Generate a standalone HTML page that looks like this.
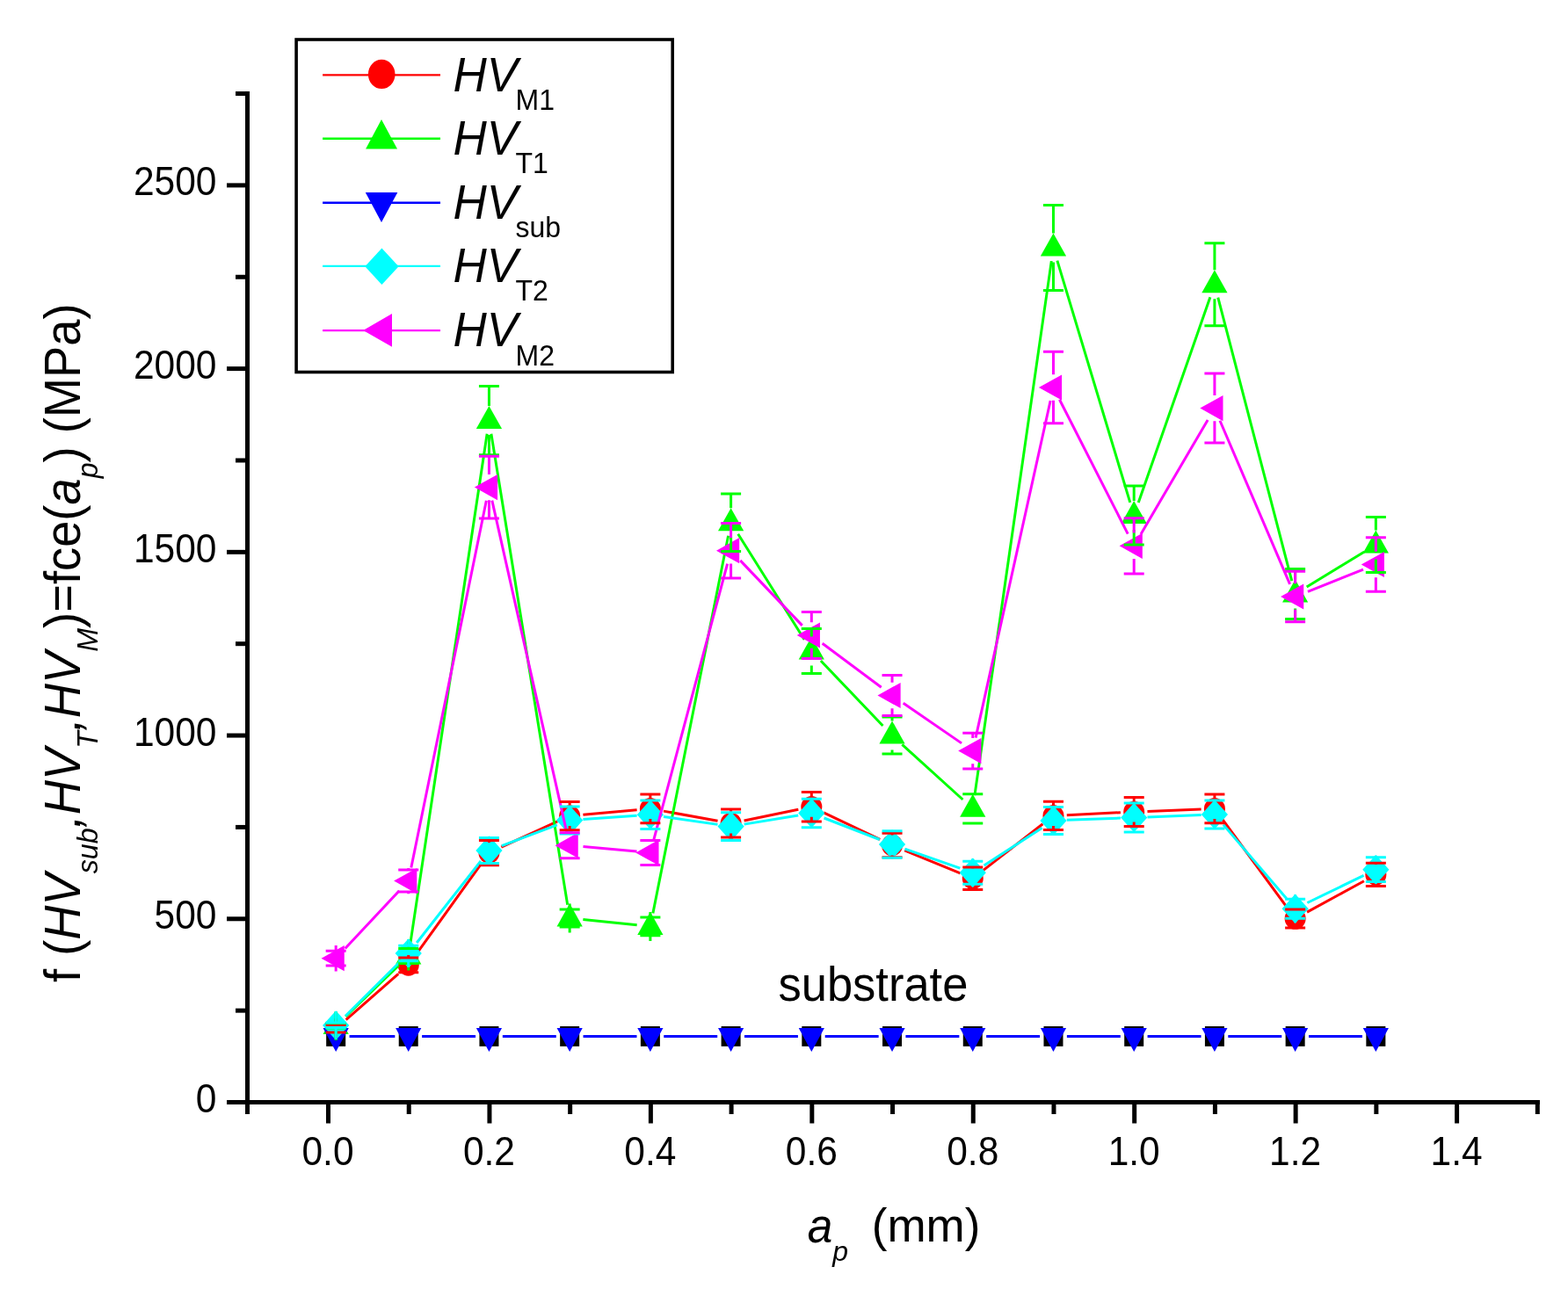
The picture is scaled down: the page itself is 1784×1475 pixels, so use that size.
<!DOCTYPE html>
<html><head><meta charset="utf-8"><title>HV chart</title>
<style>
html,body{margin:0;padding:0;background:#fff;}
body{width:1784px;height:1475px;overflow:hidden;}
svg{display:block;}
text{font-family:"Liberation Sans",sans-serif;fill:#000;}
</style></head>
<body>
<svg width="1784" height="1475" viewBox="0 0 1784 1475">
<rect width="1784" height="1475" fill="#fff"/>
<g id="data">
<rect x="371.17" y="1168.05" width="22" height="22.8" fill="#000000"/>
<rect x="453.72" y="1168.05" width="22" height="22.8" fill="#000000"/>
<rect x="545.44" y="1168.05" width="22" height="22.8" fill="#000000"/>
<rect x="637.16" y="1168.05" width="22" height="22.8" fill="#000000"/>
<rect x="728.88" y="1168.05" width="22" height="22.8" fill="#000000"/>
<rect x="820.6" y="1168.05" width="22" height="22.8" fill="#000000"/>
<rect x="912.32" y="1168.05" width="22" height="22.8" fill="#000000"/>
<rect x="1004.04" y="1168.05" width="22" height="22.8" fill="#000000"/>
<rect x="1095.76" y="1168.05" width="22" height="22.8" fill="#000000"/>
<rect x="1187.48" y="1168.05" width="22" height="22.8" fill="#000000"/>
<rect x="1279.2" y="1168.05" width="22" height="22.8" fill="#000000"/>
<rect x="1370.92" y="1168.05" width="22" height="22.8" fill="#000000"/>
<rect x="1462.64" y="1168.05" width="22" height="22.8" fill="#000000"/>
<rect x="1554.36" y="1168.05" width="22" height="22.8" fill="#000000"/>
<path d="M393.67 1160.71L453.22 1108.49M473.64 1085.97L547.52 983.03M570.35 964.23L634.25 934.97M663.4 927.24L724.64 921.76M754.94 923.12L816.54 934.28M846.59 933.93L908.33 921.27M937.13 924.79L1001.23 955.41M1029.19 967.82L1092.61 993.88M1118.84 990.31L1186.4 937.79M1213.76 927.67L1274.92 924.73M1305.49 923.4L1366.63 921M1390.97 932.74L1464.59 1033.16M1487.07 1038.17L1551.93 1002.73" stroke="#ff0000" stroke-width="3.0" fill="none"/>
<ellipse cx="382.17" cy="1170.8" rx="12.0" ry="12.3" fill="#ff0000"/>
<ellipse cx="464.72" cy="1098.4" rx="12.0" ry="12.3" fill="#ff0000"/>
<ellipse cx="556.44" cy="970.6" rx="12.0" ry="12.3" fill="#ff0000"/>
<ellipse cx="648.16" cy="928.6" rx="12.0" ry="12.3" fill="#ff0000"/>
<ellipse cx="739.88" cy="920.4" rx="12.0" ry="12.3" fill="#ff0000"/>
<ellipse cx="831.6" cy="937" rx="12.0" ry="12.3" fill="#ff0000"/>
<ellipse cx="923.32" cy="918.2" rx="12.0" ry="12.3" fill="#ff0000"/>
<ellipse cx="1015.04" cy="962" rx="12.0" ry="12.3" fill="#ff0000"/>
<ellipse cx="1106.76" cy="999.7" rx="12.0" ry="12.3" fill="#ff0000"/>
<ellipse cx="1198.48" cy="928.4" rx="12.0" ry="12.3" fill="#ff0000"/>
<ellipse cx="1290.2" cy="924" rx="12.0" ry="12.3" fill="#ff0000"/>
<ellipse cx="1381.92" cy="920.4" rx="12.0" ry="12.3" fill="#ff0000"/>
<ellipse cx="1473.64" cy="1045.5" rx="12.0" ry="12.3" fill="#ff0000"/>
<ellipse cx="1565.36" cy="995.4" rx="12.0" ry="12.3" fill="#ff0000"/>
<path d="M393.19 1156.89L453.7 1098.61M467 1072.87L554.16 493.73M558.89 493.7L645.71 1029.8M663.38 1046.48L724.66 1052.82M742.87 1039.4L828.61 609.8M839.73 607.76L915.19 728.04M933.89 752.06L1004.47 825.94M1026.37 847.29L1095.43 910.01M1108.94 905.16L1196.3 297.14M1202.89 296.65L1285.79 571.85M1295.24 572.06L1376.88 338.24M1385.78 338.61L1469.78 661.19M1486.7 668.03L1552.3 627.97" stroke="#00ff00" stroke-width="3.0" fill="none"/>
<path d="M382.17 1150.9L396.77 1177L367.57 1177Z" fill="#00ff00"/>
<path d="M464.72 1071.4L479.32 1097.5L450.12 1097.5Z" fill="#00ff00"/>
<path d="M556.44 462L571.04 488.1L541.84 488.1Z" fill="#00ff00"/>
<path d="M648.16 1028.3L662.76 1054.4L633.56 1054.4Z" fill="#00ff00"/>
<path d="M739.88 1037.8L754.48 1063.9L725.28 1063.9Z" fill="#00ff00"/>
<path d="M831.6 578.2L846.2 604.3L817 604.3Z" fill="#00ff00"/>
<path d="M923.32 724.4L937.92 750.5L908.72 750.5Z" fill="#00ff00"/>
<path d="M1015.04 820.4L1029.64 846.5L1000.44 846.5Z" fill="#00ff00"/>
<path d="M1106.76 903.7L1121.36 929.8L1092.16 929.8Z" fill="#00ff00"/>
<path d="M1198.48 265.4L1213.08 291.5L1183.88 291.5Z" fill="#00ff00"/>
<path d="M1290.2 569.9L1304.8 596L1275.6 596Z" fill="#00ff00"/>
<path d="M1381.92 307.2L1396.52 333.3L1367.32 333.3Z" fill="#00ff00"/>
<path d="M1473.64 659.4L1488.24 685.5L1459.04 685.5Z" fill="#00ff00"/>
<path d="M1565.36 603.4L1579.96 629.5L1550.76 629.5Z" fill="#00ff00"/>
<path d="M397.57 1179.45L449.32 1179.45M480.12 1179.45L541.04 1179.45M571.84 1179.45L632.76 1179.45M663.56 1179.45L724.48 1179.45M755.28 1179.45L816.2 1179.45M847 1179.45L907.92 1179.45M938.72 1179.45L999.64 1179.45M1030.44 1179.45L1091.36 1179.45M1122.16 1179.45L1183.08 1179.45M1213.88 1179.45L1274.8 1179.45M1305.6 1179.45L1366.52 1179.45M1397.32 1179.45L1458.24 1179.45M1489.04 1179.45L1549.96 1179.45" stroke="#0000ff" stroke-width="3.0" fill="none"/>
<path d="M367.57 1169.95L396.77 1169.95L382.17 1196.95Z" fill="#0000ff"/>
<path d="M450.12 1169.95L479.32 1169.95L464.72 1196.95Z" fill="#0000ff"/>
<path d="M541.84 1169.95L571.04 1169.95L556.44 1196.95Z" fill="#0000ff"/>
<path d="M633.56 1169.95L662.76 1169.95L648.16 1196.95Z" fill="#0000ff"/>
<path d="M725.28 1169.95L754.48 1169.95L739.88 1196.95Z" fill="#0000ff"/>
<path d="M817 1169.95L846.2 1169.95L831.6 1196.95Z" fill="#0000ff"/>
<path d="M908.72 1169.95L937.92 1169.95L923.32 1196.95Z" fill="#0000ff"/>
<path d="M1000.44 1169.95L1029.64 1169.95L1015.04 1196.95Z" fill="#0000ff"/>
<path d="M1092.16 1169.95L1121.36 1169.95L1106.76 1196.95Z" fill="#0000ff"/>
<path d="M1183.88 1169.95L1213.08 1169.95L1198.48 1196.95Z" fill="#0000ff"/>
<path d="M1275.6 1169.95L1304.8 1169.95L1290.2 1196.95Z" fill="#0000ff"/>
<path d="M1367.32 1169.95L1396.52 1169.95L1381.92 1196.95Z" fill="#0000ff"/>
<path d="M1459.04 1169.95L1488.24 1169.95L1473.64 1196.95Z" fill="#0000ff"/>
<path d="M1550.76 1169.95L1579.96 1169.95L1565.36 1196.95Z" fill="#0000ff"/>
<path d="M393.03 1156.22L453.87 1095.78M474.16 1072.96L547 980.04M570.77 962.63L633.83 938.97M663.42 932.53L724.62 928.27M755.02 929.41L816.46 938.39M846.7 938.11L908.22 927.99M937.59 931.02L1000.77 955.48M1029.48 966.07L1092.32 988.13M1119.61 984.89L1185.63 942.21M1213.77 933.33L1274.91 931.07M1305.49 929.92L1366.63 927.58M1391.87 938.63L1463.69 1022.57M1487.41 1027.52L1551.59 996.38" stroke="#00ffff" stroke-width="3.0" fill="none"/>
<path d="M382.17 1150.2L397.27 1167L382.17 1183.8L367.07 1167Z" fill="#00ffff"/>
<path d="M464.72 1068.2L479.82 1085L464.72 1101.8L449.62 1085Z" fill="#00ffff"/>
<path d="M556.44 951.2L571.54 968L556.44 984.8L541.34 968Z" fill="#00ffff"/>
<path d="M648.16 916.8L663.26 933.6L648.16 950.4L633.06 933.6Z" fill="#00ffff"/>
<path d="M739.88 910.4L754.98 927.2L739.88 944L724.78 927.2Z" fill="#00ffff"/>
<path d="M831.6 923.8L846.7 940.6L831.6 957.4L816.5 940.6Z" fill="#00ffff"/>
<path d="M923.32 908.7L938.42 925.5L923.32 942.3L908.22 925.5Z" fill="#00ffff"/>
<path d="M1015.04 944.2L1030.14 961L1015.04 977.8L999.94 961Z" fill="#00ffff"/>
<path d="M1106.76 976.4L1121.86 993.2L1106.76 1010L1091.66 993.2Z" fill="#00ffff"/>
<path d="M1198.48 917.1L1213.58 933.9L1198.48 950.7L1183.38 933.9Z" fill="#00ffff"/>
<path d="M1290.2 913.7L1305.3 930.5L1290.2 947.3L1275.1 930.5Z" fill="#00ffff"/>
<path d="M1381.92 910.2L1397.02 927L1381.92 943.8L1366.82 927Z" fill="#00ffff"/>
<path d="M1473.64 1017.4L1488.74 1034.2L1473.64 1051L1458.54 1034.2Z" fill="#00ffff"/>
<path d="M1565.36 972.9L1580.46 989.7L1565.36 1006.5L1550.26 989.7Z" fill="#00ffff"/>
<path d="M392.7 1079.46L454.19 1013.84M467.81 987.51L553.35 569.69M559.82 569.62L644.78 947.18M663.5 963.57L724.54 969.03M743.85 955.52L827.63 641.58M842.22 637.85L912.7 711.85M935.66 732.22L1002.7 782.28M1027.73 800.23L1094.07 845.87M1110.09 839.57L1195.15 456.03M1205.46 454.73L1283.22 607.57M1297.98 608.01L1374.14 477.89M1387.98 478.76L1467.58 664.84M1487.95 673.31L1551.05 648.19" stroke="#ff00ff" stroke-width="3.0" fill="none"/>
<path d="M365.57 1090.7L391.77 1076.1L391.77 1105.3Z" fill="#ff00ff"/>
<path d="M448.12 1002.6L474.32 988L474.32 1017.2Z" fill="#ff00ff"/>
<path d="M539.84 554.6L566.04 540L566.04 569.2Z" fill="#ff00ff"/>
<path d="M631.56 962.2L657.76 947.6L657.76 976.8Z" fill="#ff00ff"/>
<path d="M723.28 970.4L749.48 955.8L749.48 985Z" fill="#ff00ff"/>
<path d="M815 626.7L841.2 612.1L841.2 641.3Z" fill="#ff00ff"/>
<path d="M906.72 723L932.92 708.4L932.92 737.6Z" fill="#ff00ff"/>
<path d="M998.44 791.5L1024.64 776.9L1024.64 806.1Z" fill="#ff00ff"/>
<path d="M1090.16 854.6L1116.36 840L1116.36 869.2Z" fill="#ff00ff"/>
<path d="M1181.88 441L1208.08 426.4L1208.08 455.6Z" fill="#ff00ff"/>
<path d="M1273.6 621.3L1299.8 606.7L1299.8 635.9Z" fill="#ff00ff"/>
<path d="M1365.32 464.6L1391.52 450L1391.52 479.2Z" fill="#ff00ff"/>
<path d="M1457.04 679L1483.24 664.4L1483.24 693.6Z" fill="#ff00ff"/>
<path d="M1548.76 642.5L1574.96 627.9L1574.96 657.1Z" fill="#ff00ff"/>
<path d="M382.17 1166.5V1159.3M382.17 1175.1V1182.3" stroke="#ff0000" stroke-width="3.0" fill="none"/><path d="M370.67 1166.5H393.67M370.67 1175.1H393.67" stroke="#ff0000" stroke-width="3.0" fill="none"/>
<path d="M464.72 1090V1086.9M464.72 1106.8V1109.9" stroke="#ff0000" stroke-width="3.0" fill="none"/><path d="M453.22 1090H476.22M453.22 1106.8H476.22" stroke="#ff0000" stroke-width="3.0" fill="none"/>
<path d="M556.44 956.4V959.1M556.44 984.8V982.1" stroke="#ff0000" stroke-width="3.0" fill="none"/><path d="M544.94 956.4H567.94M544.94 984.8H567.94" stroke="#ff0000" stroke-width="3.0" fill="none"/>
<path d="M648.16 912.5V917.1M648.16 944.7V940.1" stroke="#ff0000" stroke-width="3.0" fill="none"/><path d="M636.66 912.5H659.66M636.66 944.7H659.66" stroke="#ff0000" stroke-width="3.0" fill="none"/>
<path d="M739.88 904V908.9M739.88 936.8V931.9" stroke="#ff0000" stroke-width="3.0" fill="none"/><path d="M728.38 904H751.38M728.38 936.8H751.38" stroke="#ff0000" stroke-width="3.0" fill="none"/>
<path d="M831.6 921.1V925.5M831.6 952.9V948.5" stroke="#ff0000" stroke-width="3.0" fill="none"/><path d="M820.1 921.1H843.1M820.1 952.9H843.1" stroke="#ff0000" stroke-width="3.0" fill="none"/>
<path d="M923.32 901.5V906.7M923.32 934.9V929.7" stroke="#ff0000" stroke-width="3.0" fill="none"/><path d="M911.82 901.5H934.82M911.82 934.9H934.82" stroke="#ff0000" stroke-width="3.0" fill="none"/>
<path d="M1015.04 948.3V950.5M1015.04 975.7V973.5" stroke="#ff0000" stroke-width="3.0" fill="none"/><path d="M1003.54 948.3H1026.54M1003.54 975.7H1026.54" stroke="#ff0000" stroke-width="3.0" fill="none"/>
<path d="M1106.76 987V988.2M1106.76 1012.4V1011.2" stroke="#ff0000" stroke-width="3.0" fill="none"/><path d="M1095.26 987H1118.26M1095.26 1012.4H1118.26" stroke="#ff0000" stroke-width="3.0" fill="none"/>
<path d="M1198.48 912.2V916.9M1198.48 944.6V939.9" stroke="#ff0000" stroke-width="3.0" fill="none"/><path d="M1186.98 912.2H1209.98M1186.98 944.6H1209.98" stroke="#ff0000" stroke-width="3.0" fill="none"/>
<path d="M1290.2 907.6V912.5M1290.2 940.4V935.5" stroke="#ff0000" stroke-width="3.0" fill="none"/><path d="M1278.7 907.6H1301.7M1278.7 940.4H1301.7" stroke="#ff0000" stroke-width="3.0" fill="none"/>
<path d="M1381.92 904V908.9M1381.92 936.8V931.9" stroke="#ff0000" stroke-width="3.0" fill="none"/><path d="M1370.42 904H1393.42M1370.42 936.8H1393.42" stroke="#ff0000" stroke-width="3.0" fill="none"/>
<path d="M1473.64 1035V1034M1473.64 1056V1057" stroke="#ff0000" stroke-width="3.0" fill="none"/><path d="M1462.14 1035H1485.14M1462.14 1056H1485.14" stroke="#ff0000" stroke-width="3.0" fill="none"/>
<path d="M1565.36 982.2V983.9M1565.36 1008.6V1006.9" stroke="#ff0000" stroke-width="3.0" fill="none"/><path d="M1553.86 982.2H1576.86M1553.86 1008.6H1576.86" stroke="#ff0000" stroke-width="3.0" fill="none"/>
<path d="M382.17 1164.5V1151M382.17 1170.5V1184" stroke="#00ff00" stroke-width="3.0" fill="none"/><path d="M370.67 1164.5H393.67M370.67 1170.5H393.67" stroke="#00ff00" stroke-width="3.0" fill="none"/>
<path d="M464.72 1079.4V1071.5M464.72 1096.6V1104.5" stroke="#00ff00" stroke-width="3.0" fill="none"/><path d="M453.22 1079.4H476.22M453.22 1096.6H476.22" stroke="#00ff00" stroke-width="3.0" fill="none"/>
<path d="M556.44 439.4V462.1M556.44 517.8V495.1" stroke="#00ff00" stroke-width="3.0" fill="none"/><path d="M544.94 439.4H567.94M544.94 517.8H567.94" stroke="#00ff00" stroke-width="3.0" fill="none"/>
<path d="M648.16 1034.9V1028.4M648.16 1054.9V1061.4" stroke="#00ff00" stroke-width="3.0" fill="none"/><path d="M636.66 1034.9H659.66M636.66 1054.9H659.66" stroke="#00ff00" stroke-width="3.0" fill="none"/>
<path d="M739.88 1044V1037.9M739.88 1064.8V1070.9" stroke="#00ff00" stroke-width="3.0" fill="none"/><path d="M728.38 1044H751.38M728.38 1064.8H751.38" stroke="#00ff00" stroke-width="3.0" fill="none"/>
<path d="M831.6 562V578.3M831.6 627.6V611.3" stroke="#00ff00" stroke-width="3.0" fill="none"/><path d="M820.1 562H843.1M820.1 627.6H843.1" stroke="#00ff00" stroke-width="3.0" fill="none"/>
<path d="M923.32 715.6V724.5M923.32 766.4V757.5" stroke="#00ff00" stroke-width="3.0" fill="none"/><path d="M911.82 715.6H934.82M911.82 766.4H934.82" stroke="#00ff00" stroke-width="3.0" fill="none"/>
<path d="M1015.04 816V820.5M1015.04 858V853.5" stroke="#00ff00" stroke-width="3.0" fill="none"/><path d="M1003.54 816H1026.54M1003.54 858H1026.54" stroke="#00ff00" stroke-width="3.0" fill="none"/>
<path d="M1106.76 903.7V903.8M1106.76 936.9V936.8" stroke="#00ff00" stroke-width="3.0" fill="none"/><path d="M1095.26 903.7H1118.26M1095.26 936.9H1118.26" stroke="#00ff00" stroke-width="3.0" fill="none"/>
<path d="M1198.48 233.6V265.5M1198.48 330.4V298.5" stroke="#00ff00" stroke-width="3.0" fill="none"/><path d="M1186.98 233.6H1209.98M1186.98 330.4H1209.98" stroke="#00ff00" stroke-width="3.0" fill="none"/>
<path d="M1290.2 553V570M1290.2 620V603" stroke="#00ff00" stroke-width="3.0" fill="none"/><path d="M1278.7 553H1301.7M1278.7 620H1301.7" stroke="#00ff00" stroke-width="3.0" fill="none"/>
<path d="M1381.92 276.8V307.3M1381.92 370.8V340.3" stroke="#00ff00" stroke-width="3.0" fill="none"/><path d="M1370.42 276.8H1393.42M1370.42 370.8H1393.42" stroke="#00ff00" stroke-width="3.0" fill="none"/>
<path d="M1473.64 647.5V659.5M1473.64 704.5V692.5" stroke="#00ff00" stroke-width="3.0" fill="none"/><path d="M1462.14 647.5H1485.14M1462.14 704.5H1485.14" stroke="#00ff00" stroke-width="3.0" fill="none"/>
<path d="M1565.36 588.5V603.5M1565.36 651.5V636.5" stroke="#00ff00" stroke-width="3.0" fill="none"/><path d="M1553.86 588.5H1576.86M1553.86 651.5H1576.86" stroke="#00ff00" stroke-width="3.0" fill="none"/>
<path d="M382.17 1164V1151M382.17 1170V1183" stroke="#00ffff" stroke-width="3.0" fill="none"/><path d="M370.67 1164H393.67M370.67 1170H393.67" stroke="#00ffff" stroke-width="3.0" fill="none"/>
<path d="M464.72 1076.3V1069M464.72 1093.7V1101" stroke="#00ffff" stroke-width="3.0" fill="none"/><path d="M453.22 1076.3H476.22M453.22 1093.7H476.22" stroke="#00ffff" stroke-width="3.0" fill="none"/>
<path d="M556.44 953.5V952M556.44 982.5V984" stroke="#00ffff" stroke-width="3.0" fill="none"/><path d="M544.94 953.5H567.94M544.94 982.5H567.94" stroke="#00ffff" stroke-width="3.0" fill="none"/>
<path d="M648.16 918.1V917.6M648.16 949.1V949.6" stroke="#00ffff" stroke-width="3.0" fill="none"/><path d="M636.66 918.1H659.66M636.66 949.1H659.66" stroke="#00ffff" stroke-width="3.0" fill="none"/>
<path d="M739.88 910.9V911.2M739.88 943.5V943.2" stroke="#00ffff" stroke-width="3.0" fill="none"/><path d="M728.38 910.9H751.38M728.38 943.5H751.38" stroke="#00ffff" stroke-width="3.0" fill="none"/>
<path d="M831.6 924.7V924.6M831.6 956.5V956.6" stroke="#00ffff" stroke-width="3.0" fill="none"/><path d="M820.1 924.7H843.1M820.1 956.5H843.1" stroke="#00ffff" stroke-width="3.0" fill="none"/>
<path d="M923.32 909.3V909.5M923.32 941.7V941.5" stroke="#00ffff" stroke-width="3.0" fill="none"/><path d="M911.82 909.3H934.82M911.82 941.7H934.82" stroke="#00ffff" stroke-width="3.0" fill="none"/>
<path d="M1015.04 945.8V945M1015.04 976.2V977" stroke="#00ffff" stroke-width="3.0" fill="none"/><path d="M1003.54 945.8H1026.54M1003.54 976.2H1026.54" stroke="#00ffff" stroke-width="3.0" fill="none"/>
<path d="M1106.76 980.2V977.2M1106.76 1006.2V1009.2" stroke="#00ffff" stroke-width="3.0" fill="none"/><path d="M1095.26 980.2H1118.26M1095.26 1006.2H1118.26" stroke="#00ffff" stroke-width="3.0" fill="none"/>
<path d="M1198.48 918.4V917.9M1198.48 949.4V949.9" stroke="#00ffff" stroke-width="3.0" fill="none"/><path d="M1186.98 918.4H1209.98M1186.98 949.4H1209.98" stroke="#00ffff" stroke-width="3.0" fill="none"/>
<path d="M1290.2 914V914.5M1290.2 947V946.5" stroke="#00ffff" stroke-width="3.0" fill="none"/><path d="M1278.7 914H1301.7M1278.7 947H1301.7" stroke="#00ffff" stroke-width="3.0" fill="none"/>
<path d="M1381.92 910.9V911M1381.92 943.1V943" stroke="#00ffff" stroke-width="3.0" fill="none"/><path d="M1370.42 910.9H1393.42M1370.42 943.1H1393.42" stroke="#00ffff" stroke-width="3.0" fill="none"/>
<path d="M1473.64 1023.2V1018.2M1473.64 1045.2V1050.2" stroke="#00ffff" stroke-width="3.0" fill="none"/><path d="M1462.14 1023.2H1485.14M1462.14 1045.2H1485.14" stroke="#00ffff" stroke-width="3.0" fill="none"/>
<path d="M1565.36 975.8V973.7M1565.36 1003.6V1005.7" stroke="#00ffff" stroke-width="3.0" fill="none"/><path d="M1553.86 975.8H1576.86M1553.86 1003.6H1576.86" stroke="#00ffff" stroke-width="3.0" fill="none"/>
<path d="M382.17 1082.3V1076M382.17 1099.1V1105.4" stroke="#ff00ff" stroke-width="3.0" fill="none"/><path d="M370.67 1082.3H393.67M370.67 1099.1H393.67" stroke="#ff00ff" stroke-width="3.0" fill="none"/>
<path d="M464.72 990.1V987.9M464.72 1015.1V1017.3" stroke="#ff00ff" stroke-width="3.0" fill="none"/><path d="M453.22 990.1H476.22M453.22 1015.1H476.22" stroke="#ff00ff" stroke-width="3.0" fill="none"/>
<path d="M556.44 519.3V539.9M556.44 589.9V569.3" stroke="#ff00ff" stroke-width="3.0" fill="none"/><path d="M544.94 519.3H567.94M544.94 589.9H567.94" stroke="#ff00ff" stroke-width="3.0" fill="none"/>
<path d="M648.16 947.7V947.5M648.16 976.7V976.9" stroke="#ff00ff" stroke-width="3.0" fill="none"/><path d="M636.66 947.7H659.66M636.66 976.7H659.66" stroke="#ff00ff" stroke-width="3.0" fill="none"/>
<path d="M739.88 956.4V955.7M739.88 984.4V985.1" stroke="#ff00ff" stroke-width="3.0" fill="none"/><path d="M728.38 956.4H751.38M728.38 984.4H751.38" stroke="#ff00ff" stroke-width="3.0" fill="none"/>
<path d="M831.6 595.5V612M831.6 657.9V641.4" stroke="#ff00ff" stroke-width="3.0" fill="none"/><path d="M820.1 595.5H843.1M820.1 657.9H843.1" stroke="#ff00ff" stroke-width="3.0" fill="none"/>
<path d="M923.32 696.5V708.3M923.32 749.5V737.7" stroke="#ff00ff" stroke-width="3.0" fill="none"/><path d="M911.82 696.5H934.82M911.82 749.5H934.82" stroke="#ff00ff" stroke-width="3.0" fill="none"/>
<path d="M1015.04 768.5V776.8M1015.04 814.5V806.2" stroke="#ff00ff" stroke-width="3.0" fill="none"/><path d="M1003.54 768.5H1026.54M1003.54 814.5H1026.54" stroke="#ff00ff" stroke-width="3.0" fill="none"/>
<path d="M1106.76 834.3V839.9M1106.76 874.9V869.3" stroke="#ff00ff" stroke-width="3.0" fill="none"/><path d="M1095.26 834.3H1118.26M1095.26 874.9H1118.26" stroke="#ff00ff" stroke-width="3.0" fill="none"/>
<path d="M1198.48 400.3V426.3M1198.48 481.7V455.7" stroke="#ff00ff" stroke-width="3.0" fill="none"/><path d="M1186.98 400.3H1209.98M1186.98 481.7H1209.98" stroke="#ff00ff" stroke-width="3.0" fill="none"/>
<path d="M1290.2 589.7V606.6M1290.2 652.9V636" stroke="#ff00ff" stroke-width="3.0" fill="none"/><path d="M1278.7 589.7H1301.7M1278.7 652.9H1301.7" stroke="#ff00ff" stroke-width="3.0" fill="none"/>
<path d="M1381.92 425.1V449.9M1381.92 504.1V479.3" stroke="#ff00ff" stroke-width="3.0" fill="none"/><path d="M1370.42 425.1H1393.42M1370.42 504.1H1393.42" stroke="#ff00ff" stroke-width="3.0" fill="none"/>
<path d="M1473.64 650.25V664.3M1473.64 707.75V693.7" stroke="#ff00ff" stroke-width="3.0" fill="none"/><path d="M1462.14 650.25H1485.14M1462.14 707.75H1485.14" stroke="#ff00ff" stroke-width="3.0" fill="none"/>
<path d="M1565.36 611.8V627.8M1565.36 673.2V657.2" stroke="#ff00ff" stroke-width="3.0" fill="none"/><path d="M1553.86 611.8H1576.86M1553.86 673.2H1576.86" stroke="#ff00ff" stroke-width="3.0" fill="none"/>
</g>
<g id="axes">
<path d="M281.5 106.54V1265.5" stroke="#000" stroke-width="5.0" fill="none" stroke-linecap="square"/>
<path d="M260.5 1254.5H1749.3" stroke="#000" stroke-width="5.0" fill="none" stroke-linecap="square"/>
<path d="M270.5 1150.14H281.5" stroke="#000" stroke-width="5.0" stroke-linecap="square"/>
<path d="M260.5 1045.78H281.5" stroke="#000" stroke-width="5.0" stroke-linecap="square"/>
<path d="M270.5 941.42H281.5" stroke="#000" stroke-width="5.0" stroke-linecap="square"/>
<path d="M260.5 837.06H281.5" stroke="#000" stroke-width="5.0" stroke-linecap="square"/>
<path d="M270.5 732.7H281.5" stroke="#000" stroke-width="5.0" stroke-linecap="square"/>
<path d="M260.5 628.34H281.5" stroke="#000" stroke-width="5.0" stroke-linecap="square"/>
<path d="M270.5 523.98H281.5" stroke="#000" stroke-width="5.0" stroke-linecap="square"/>
<path d="M260.5 419.62H281.5" stroke="#000" stroke-width="5.0" stroke-linecap="square"/>
<path d="M270.5 315.26H281.5" stroke="#000" stroke-width="5.0" stroke-linecap="square"/>
<path d="M260.5 210.9H281.5" stroke="#000" stroke-width="5.0" stroke-linecap="square"/>
<path d="M270.5 106.54H281.5" stroke="#000" stroke-width="5.0" stroke-linecap="square"/>
<path d="M373.5 1254.5V1276" stroke="#000" stroke-width="5.0" stroke-linecap="square"/>
<path d="M465.22 1254.5V1265.5" stroke="#000" stroke-width="5.0" stroke-linecap="square"/>
<path d="M556.94 1254.5V1276" stroke="#000" stroke-width="5.0" stroke-linecap="square"/>
<path d="M648.66 1254.5V1265.5" stroke="#000" stroke-width="5.0" stroke-linecap="square"/>
<path d="M740.38 1254.5V1276" stroke="#000" stroke-width="5.0" stroke-linecap="square"/>
<path d="M832.1 1254.5V1265.5" stroke="#000" stroke-width="5.0" stroke-linecap="square"/>
<path d="M923.82 1254.5V1276" stroke="#000" stroke-width="5.0" stroke-linecap="square"/>
<path d="M1015.54 1254.5V1265.5" stroke="#000" stroke-width="5.0" stroke-linecap="square"/>
<path d="M1107.26 1254.5V1276" stroke="#000" stroke-width="5.0" stroke-linecap="square"/>
<path d="M1198.98 1254.5V1265.5" stroke="#000" stroke-width="5.0" stroke-linecap="square"/>
<path d="M1290.7 1254.5V1276" stroke="#000" stroke-width="5.0" stroke-linecap="square"/>
<path d="M1382.42 1254.5V1265.5" stroke="#000" stroke-width="5.0" stroke-linecap="square"/>
<path d="M1474.14 1254.5V1276" stroke="#000" stroke-width="5.0" stroke-linecap="square"/>
<path d="M1565.86 1254.5V1265.5" stroke="#000" stroke-width="5.0" stroke-linecap="square"/>
<path d="M1657.58 1254.5V1276" stroke="#000" stroke-width="5.0" stroke-linecap="square"/>
<path d="M1749.3 1254.5V1265.5" stroke="#000" stroke-width="5.0" stroke-linecap="square"/>
</g>
<g id="ticklabels" font-size="42.5">
<text x="0" y="0" transform="translate(246.5 1265.94) scale(1 1.1)" text-anchor="end">0</text>
<text x="0" y="0" transform="translate(246.5 1057.22) scale(1 1.1)" text-anchor="end">500</text>
<text x="0" y="0" transform="translate(246.5 848.5) scale(1 1.1)" text-anchor="end">1000</text>
<text x="0" y="0" transform="translate(246.5 639.78) scale(1 1.1)" text-anchor="end">1500</text>
<text x="0" y="0" transform="translate(246.5 431.06) scale(1 1.1)" text-anchor="end">2000</text>
<text x="0" y="0" transform="translate(246.5 222.34) scale(1 1.1)" text-anchor="end">2500</text>
<text x="0" y="0" transform="translate(373 1326.3) scale(1 1.1)" text-anchor="middle">0.0</text>
<text x="0" y="0" transform="translate(556.44 1326.3) scale(1 1.1)" text-anchor="middle">0.2</text>
<text x="0" y="0" transform="translate(739.88 1326.3) scale(1 1.1)" text-anchor="middle">0.4</text>
<text x="0" y="0" transform="translate(923.32 1326.3) scale(1 1.1)" text-anchor="middle">0.6</text>
<text x="0" y="0" transform="translate(1106.76 1326.3) scale(1 1.1)" text-anchor="middle">0.8</text>
<text x="0" y="0" transform="translate(1290.2 1326.3) scale(1 1.1)" text-anchor="middle">1.0</text>
<text x="0" y="0" transform="translate(1473.64 1326.3) scale(1 1.1)" text-anchor="middle">1.2</text>
<text x="0" y="0" transform="translate(1657.08 1326.3) scale(1 1.1)" text-anchor="middle">1.4</text>
</g>
<g id="legend">
<rect x="337.1" y="45" width="428.1" height="378.5" fill="#fff" stroke="#000" stroke-width="3.6"/>
<path d="M367.1 85.4H501" stroke="#ff0000" stroke-width="2.4"/>
<path d="M367.1 157.8H501" stroke="#00ff00" stroke-width="2.4"/>
<path d="M367.1 230.8H501" stroke="#0000ff" stroke-width="2.4"/>
<path d="M367.1 302.9H501" stroke="#00ffff" stroke-width="2.4"/>
<path d="M367.1 376.1H501" stroke="#ff00ff" stroke-width="2.4"/>
<ellipse cx="434.2" cy="84.4" rx="15.3" ry="16.6" fill="#ff0000"/>
<path d="M434 136L452 169.5L416.1 169.5Z" fill="#00ff00"/>
<path d="M415.8 218.9L452.3 218.9L434 253Z" fill="#0000ff"/>
<path d="M434.4 282.5L453.6 303.3L434.4 324.1L415.3 303.3Z" fill="#00ffff"/>
<path d="M413.2 376L446 356.9L446 394.8Z" fill="#ff00ff"/>
<text transform="translate(515.6 103.7) scale(1 1.06)" font-style="italic" font-size="53">HV</text>
<text transform="translate(586.5 124.8) scale(1 1.03)" font-size="32">M1</text>
<text transform="translate(515.6 176.1) scale(1 1.06)" font-style="italic" font-size="53">HV</text>
<text transform="translate(586.5 197.2) scale(1 1.03)" font-size="32">T1</text>
<text transform="translate(515.6 249.1) scale(1 1.06)" font-style="italic" font-size="53">HV</text>
<text transform="translate(586.5 270.2) scale(1 1.03)" font-size="32">sub</text>
<text transform="translate(515.6 321.2) scale(1 1.06)" font-style="italic" font-size="53">HV</text>
<text transform="translate(586.5 342.3) scale(1 1.03)" font-size="32">T2</text>
<text transform="translate(515.6 394.4) scale(1 1.06)" font-style="italic" font-size="53">HV</text>
<text transform="translate(586.5 415.5) scale(1 1.03)" font-size="32">M2</text>
</g>
<g id="titles">
<text transform="translate(918.8 1413.8) scale(0.95 1.04)" font-size="54" font-style="italic">a</text>
<text transform="translate(947.2 1434.6) scale(1 1.0)" font-size="32" font-style="italic">p</text>
<text transform="translate(991.8 1413.4) scale(1 1.02)" font-size="53">(mm)</text>
<text transform="translate(885.5 1138.9) scale(1 1.04)" font-size="52.5">substrate</text>
<text transform="translate(91.1 1118) rotate(-90) scale(1.006 1.065)" font-size="54">f (<tspan font-style="italic">HV</tspan><tspan font-style="italic" font-size="32" dy="19">sub</tspan><tspan font-style="italic" dy="-19">,HV</tspan><tspan font-style="italic" font-size="32" dy="19">T</tspan><tspan font-style="italic" dy="-19">,HV</tspan><tspan font-style="italic" font-size="32" dy="19">M</tspan><tspan dy="-19">)=fce(</tspan><tspan font-style="italic">a</tspan><tspan font-style="italic" font-size="32" dy="19">p</tspan><tspan dy="-19">) (MPa)</tspan></text>
</g>
</svg>
</body></html>
